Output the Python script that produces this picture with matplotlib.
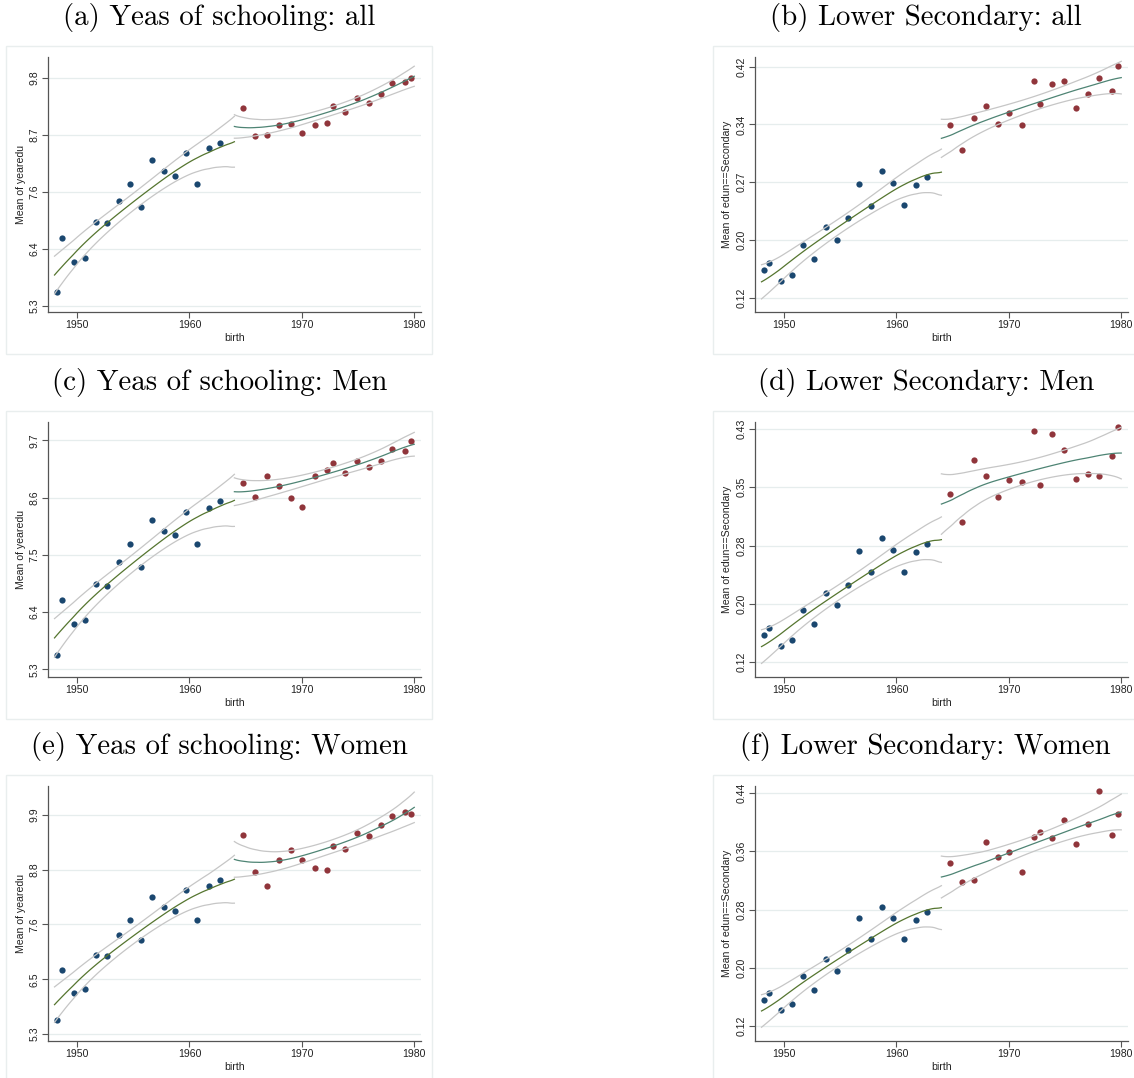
import numpy as np
import matplotlib
matplotlib.use("Agg")
import matplotlib.pyplot as plt
from matplotlib.patches import Rectangle

# birth cohorts (x positions of the binned means)
birth_lo = [1948.2, 1948.7, 1949.7, 1950.7, 1951.7, 1952.7, 1953.7, 1954.7,
            1955.7, 1956.7, 1957.7, 1958.7, 1959.7, 1960.7, 1961.7, 1962.7]
birth_hi = [1964.75, 1965.8, 1966.9, 1967.95, 1969.0, 1970.05, 1971.15, 1972.2,
            1972.75, 1973.85, 1974.9, 1975.95, 1977.0, 1978.05, 1979.2, 1979.7]

# (a) years of schooling, all
yrs_all_lo = [5.58, 6.63, 6.17, 6.24, 6.95, 6.93, 7.37, 7.70,
              7.26, 8.18, 7.96, 7.87, 8.32, 7.70, 8.41, 8.52]
yrs_all_hi = [9.21, 8.65, 8.68, 8.87, 8.89, 8.71, 8.87, 8.92,
              9.24, 9.12, 9.40, 9.30, 9.48, 9.70, 9.73, 9.80]
# (b) lower secondary, all
sec_all_lo = [0.156, 0.165, 0.142, 0.149, 0.188, 0.170, 0.212, 0.195,
              0.223, 0.267, 0.239, 0.284, 0.269, 0.240, 0.266, 0.277]
sec_all_hi = [0.344, 0.312, 0.353, 0.369, 0.345, 0.360, 0.344, 0.401,
              0.371, 0.398, 0.401, 0.367, 0.384, 0.405, 0.388, 0.421]
# (c) years of schooling, men
yrs_men_lo = [5.58, 6.63, 6.17, 6.24, 6.94, 6.91, 7.36, 7.70,
              7.26, 8.17, 7.96, 7.88, 8.32, 7.70, 8.41, 8.53]
yrs_men_hi = [8.89, 8.61, 9.02, 8.82, 8.60, 8.42, 9.01, 9.13,
              9.26, 9.07, 9.30, 9.18, 9.31, 9.53, 9.50, 9.69]
# (d) lower secondary, men
sec_men_lo = [0.156, 0.165, 0.142, 0.149, 0.189, 0.170, 0.212, 0.196,
              0.223, 0.268, 0.240, 0.285, 0.269, 0.240, 0.266, 0.277]
sec_men_hi = [0.344, 0.307, 0.389, 0.368, 0.339, 0.362, 0.360, 0.427,
              0.356, 0.423, 0.402, 0.364, 0.370, 0.368, 0.394, 0.433]
# (e) years of schooling, women
yrs_wom_lo = [5.60, 6.64, 6.17, 6.24, 6.96, 6.93, 7.38, 7.70,
              7.27, 8.18, 7.96, 7.89, 8.33, 7.70, 8.41, 8.53]
yrs_wom_hi = [9.48, 8.70, 8.41, 8.94, 9.16, 8.96, 8.78, 8.73,
              9.24, 9.19, 9.52, 9.46, 9.69, 9.88, 9.96, 9.91]
# (f) lower secondary, women
sec_wom_lo = [0.156, 0.165, 0.142, 0.150, 0.189, 0.169, 0.212, 0.195,
              0.224, 0.268, 0.239, 0.284, 0.268, 0.240, 0.266, 0.277]
sec_wom_hi = [0.344, 0.318, 0.321, 0.373, 0.352, 0.359, 0.332, 0.379,
              0.386, 0.378, 0.403, 0.370, 0.398, 0.443, 0.382, 0.411]

titles = ["(a) Yeas of schooling: all", "(b) Lower Secondary: all",
          "(c) Yeas of schooling: Men", "(d) Lower Secondary: Men",
          "(e) Yeas of schooling: Women", "(f) Lower Secondary: Women"]
ylabels = ["Mean of yearedu", "Mean of edun==Secondary"] * 3

yticks = [[5.3, 6.425, 7.55, 8.675, 9.8],
          [0.12, 0.195, 0.27, 0.345, 0.42],
          [5.3, 6.4, 7.5, 8.6, 9.7],
          [0.12, 0.1975, 0.275, 0.3525, 0.43],
          [5.3, 6.45, 7.6, 8.75, 9.9],
          [0.12, 0.20, 0.28, 0.36, 0.44]]
ytick_labels = [["5.3", "6.4", "7.6", "8.7", "9.8"],
                ["0.12", "0.20", "0.27", "0.34", "0.42"],
                ["5.3", "6.4", "7.5", "8.6", "9.7"],
                ["0.12", "0.20", "0.28", "0.35", "0.43"],
                ["5.3", "6.5", "7.6", "8.8", "9.9"],
                ["0.12", "0.20", "0.28", "0.36", "0.44"]]
ylims = [(5.175, 10.215), (0.1014, 0.4326), (5.159, 10.059),
         (0.1005, 0.4398), (5.16, 10.508), (0.0999, 0.4501)]

series = [(yrs_all_lo, yrs_all_hi), (sec_all_lo, sec_all_hi),
          (yrs_men_lo, yrs_men_hi), (sec_men_lo, sec_men_hi),
          (yrs_wom_lo, yrs_wom_hi), (sec_wom_lo, sec_wom_hi)]

NAVY = "#1a476f"
MAROON = "#90353b"
FIT_LO = "#55752f"
FIT_HI = "#4e8474"
CI = "#c6c6c6"
GRID = "#e6eded"


def lpoly(x, y, grid, bw=11.0, deg=1):
    # local polynomial smooth (epanechnikov kernel) with 95% band
    x = np.asarray(x, float)
    y = np.asarray(y, float)

    def weights(x0):
        u = (x - x0) / bw
        w = np.where(np.abs(u) < 1, 0.75 * (1 - u ** 2), 0.0)
        X = np.vander(x - x0, deg + 1, increasing=True)
        XtW = X.T * w
        return (np.linalg.pinv(XtW @ X) @ XtW)[0]

    S = np.array([weights(x0) for x0 in x])
    resid = y - S @ y
    dof = len(x) - 2 * np.trace(S) + np.trace(S.T @ S)
    s2 = resid @ resid / dof
    L = np.array([weights(g) for g in grid])
    m = L @ y
    se = np.sqrt(s2 * np.sum(L ** 2, axis=1))
    return m, m - 1.96 * se, m + 1.96 * se


W, H = 1134, 1078
fig = plt.figure(figsize=(W / 100, H / 100), dpi=100)

col_ax = [(48, 421), (755, 1128)]
col_frame = [(6, 432), (713, 1145)]
col_title = [219.5, 925.7]
row_dy = [0, 364.7, 728.7]

grid_lo = np.linspace(1948, 1964, 80)
grid_hi = np.linspace(1964, 1980, 80)

for i in range(6):
    r, c = divmod(i, 2)
    dy = row_dy[r]
    # panel frame
    fx0, fx1 = col_frame[c]
    fig.patches.append(Rectangle((fx0 / W, 1 - (354 + dy) / H), (fx1 - fx0) / W,
                                 308 / H, transform=fig.transFigure,
                                 fill=False, ec="#e9eeee", lw=1.0))
    fig.text(col_title[c] / W, 1 - (18 + dy) / H, titles[i], family="cmr10",
             fontsize=20.8, ha="center", va="center")

    x0, x1 = col_ax[c]
    ax = fig.add_axes([x0 / W, 1 - (312 + dy) / H, (x1 - x0) / W, 255 / H])
    lo, hi = series[i]
    ax.plot(birth_lo, lo, "o", color=NAVY, ms=4.5, mew=0)
    ax.plot(birth_hi, hi, "o", color=MAROON, ms=4.5, mew=0)
    for xs, ys, g, col in [(birth_lo, lo, grid_lo, FIT_LO),
                           (birth_hi, hi, grid_hi, FIT_HI)]:
        m, l95, u95 = lpoly(xs, ys, g)
        ax.plot(g, l95, color=CI, lw=0.9)
        ax.plot(g, u95, color=CI, lw=0.9)
        ax.plot(g, m, color=col, lw=0.9)

    ax.set_xlim(1947.42, 1980.6)
    ax.set_ylim(*ylims[i])
    ax.set_xticks([1950, 1960, 1970, 1980])
    ax.set_yticks(yticks[i])
    ax.set_yticklabels(ytick_labels[i], rotation=90, va="center")
    ax.yaxis.grid(True, color=GRID, lw=0.9)
    ax.set_axisbelow(True)
    for s in ("top", "right"):
        ax.spines[s].set_visible(False)
    for s in ("left", "bottom"):
        ax.spines[s].set_color("#555555")
        ax.spines[s].set_linewidth(0.9)
    ax.tick_params(length=4, width=0.8, color="#555555", pad=2,
                   labelsize=7.6, labelcolor="#222222")
    for t in ax.get_xticklabels() + ax.get_yticklabels():
        t.set_family("Liberation Sans")
    ax.set_xlabel("birth", family="Liberation Sans", fontsize=7.6,
                  color="#222222", labelpad=2)
    ax.set_ylabel(ylabels[i], family="Liberation Sans", fontsize=7.6,
                  color="#222222", labelpad=3)

fig.savefig("out.png", dpi=100)
